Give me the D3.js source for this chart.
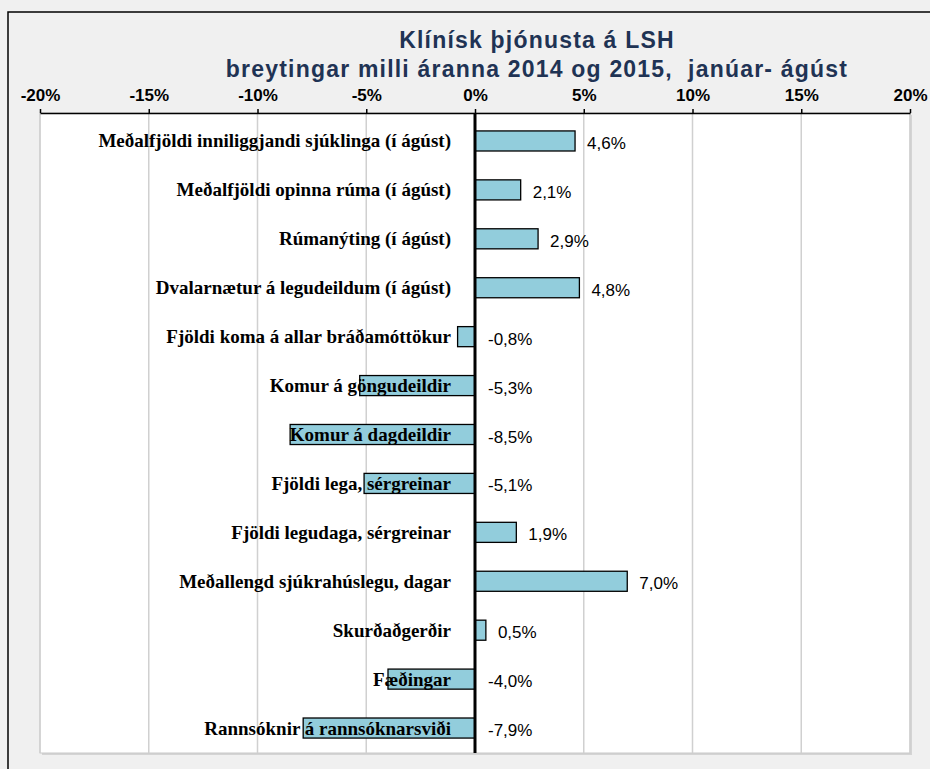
<!DOCTYPE html>
<html><head><meta charset="utf-8">
<script src="https://cdn.jsdelivr.net/npm/d3@7"></script>
<style>
html,body{margin:0;padding:0;background:#f0f0f0;}
svg{display:block;}
</style></head>
<body>
<svg id="chart" width="930" height="769"></svg>
<script>
const titleLines = ["Klínísk þjónusta á LSH", "breytingar milli áranna 2014 og 2015,  janúar- ágúst"];
const categories = [
  "Meðalfjöldi inniliggjandi sjúklinga (í ágúst)",
  "Meðalfjöldi opinna rúma (í ágúst)",
  "Rúmanýting (í ágúst)",
  "Dvalarnætur á legudeildum (í ágúst)",
  "Fjöldi koma á allar bráðamóttökur",
  "Komur á göngudeildir",
  "Komur á dagdeildir",
  "Fjöldi lega, sérgreinar",
  "Fjöldi legudaga, sérgreinar",
  "Meðallengd sjúkrahúslegu, dagar",
  "Skurðaðgerðir",
  "Fæðingar",
  "Rannsóknir á rannsóknarsviði"
];
const values = [4.6, 2.1, 2.9, 4.8, -0.8, -5.3, -8.5, -5.1, 1.9, 7.0, 0.5, -4.0, -7.9];
const tickValues = [-20, -15, -10, -5, 0, 5, 10, 15, 20];
const tickLabels = ["-20%", "-15%", "-10%", "-5%", "0%", "5%", "10%", "15%", "20%"];

const svg = d3.select("#chart");
const plot = {left: 40, right: 910, top: 113, bottom: 753};

// outer frame
svg.append("rect").attr("x", 8).attr("y", 12).attr("width", 940).attr("height", 780)
  .attr("fill", "#f0f0f0").attr("stroke", "#000").attr("stroke-width", 1.5);

const x = d3.scaleLinear().domain([-20, 20]).range([plot.left, plot.right]);
const y = d3.scaleBand().domain(categories).range([116.5, 752.5])
  .paddingInner(0.59).paddingOuter(0.295);

// plot area shadow + background
svg.append("rect").attr("x", plot.left + 2).attr("y", plot.top + 2)
  .attr("width", plot.right - plot.left).attr("height", plot.bottom - plot.top)
  .attr("fill", "#d4d4d4");
svg.append("rect").attr("x", plot.left).attr("y", plot.top)
  .attr("width", plot.right - plot.left).attr("height", plot.bottom - plot.top)
  .attr("fill", "#fff").attr("stroke", "#c8c8c8").attr("stroke-width", 1);

// gridlines
svg.append("g").selectAll("line").data(tickValues.filter(d => d !== 0)).join("line")
  .attr("x1", d => x(d)).attr("x2", d => x(d))
  .attr("y1", plot.top).attr("y2", plot.bottom)
  .attr("stroke", "#d0d0d0").attr("stroke-width", 1.5);

// bars
svg.append("g").selectAll("rect").data(values).join("rect")
  .attr("x", d => x(Math.min(0, d)))
  .attr("y", (d, i) => y(categories[i]))
  .attr("width", d => Math.abs(x(d) - x(0)))
  .attr("height", y.bandwidth())
  .attr("fill", "#92cddc").attr("stroke", "#000").attr("stroke-width", 1.3);

// category labels
svg.append("g").selectAll("text").data(categories).join("text")
  .attr("x", 451)
  .attr("y", d => y(d) + y.bandwidth() / 2 + 6.5)
  .attr("text-anchor", "end")
  .attr("font-family", "'Liberation Serif', 'Times New Roman', serif")
  .attr("font-weight", "bold").attr("font-size", 19)
  .attr("fill", "#000")
  .text(d => d);

// zero line
svg.append("line").attr("x1", x(0)).attr("x2", x(0))
  .attr("y1", plot.top).attr("y2", plot.bottom)
  .attr("stroke", "#000").attr("stroke-width", 3);

// top axis
const axis = d3.axisTop(x).tickValues(tickValues)
  .tickFormat((d, i) => tickLabels[i]).tickSize(4).tickSizeOuter(0);
const ax = svg.append("g").attr("transform", `translate(0,${plot.top})`).call(axis);
ax.select(".domain").attr("stroke", "#000").attr("stroke-width", 1.5);
ax.selectAll(".tick line").attr("stroke", "#000").attr("stroke-width", 1.5);
ax.selectAll(".tick text")
  .attr("font-family", "'Liberation Sans', Arial, sans-serif")
  .attr("font-weight", "bold").attr("font-size", 17)
  .attr("fill", "#000").attr("dy", 0).attr("y", 101 - plot.top);

// value labels
const fmt = v => v.toFixed(1).replace(".", ",") + "%";
svg.append("g").selectAll("text").data(values).join("text")
  .attr("x", d => d >= 0 ? x(d) + 12 : x(0) + 13)
  .attr("y", (d, i) => y(categories[i]) + y.bandwidth() / 2 + 8)
  .attr("font-family", "'Liberation Sans', Arial, sans-serif")
  .attr("font-size", 17).attr("fill", "#000")
  .text(d => fmt(d));

// title
svg.append("g").selectAll("text").data(titleLines).join("text")
  .attr("x", 537)
  .attr("y", (d, i) => i === 0 ? 48 : 77)
  .attr("text-anchor", "middle")
  .attr("font-family", "'Liberation Sans', Arial, sans-serif")
  .attr("font-weight", "bold").attr("font-size", 23)
  .attr("letter-spacing", 1.2)
  .style("white-space", "pre")
  .attr("fill", "#1f3354")
  .text(d => d);
</script>
</body></html>
